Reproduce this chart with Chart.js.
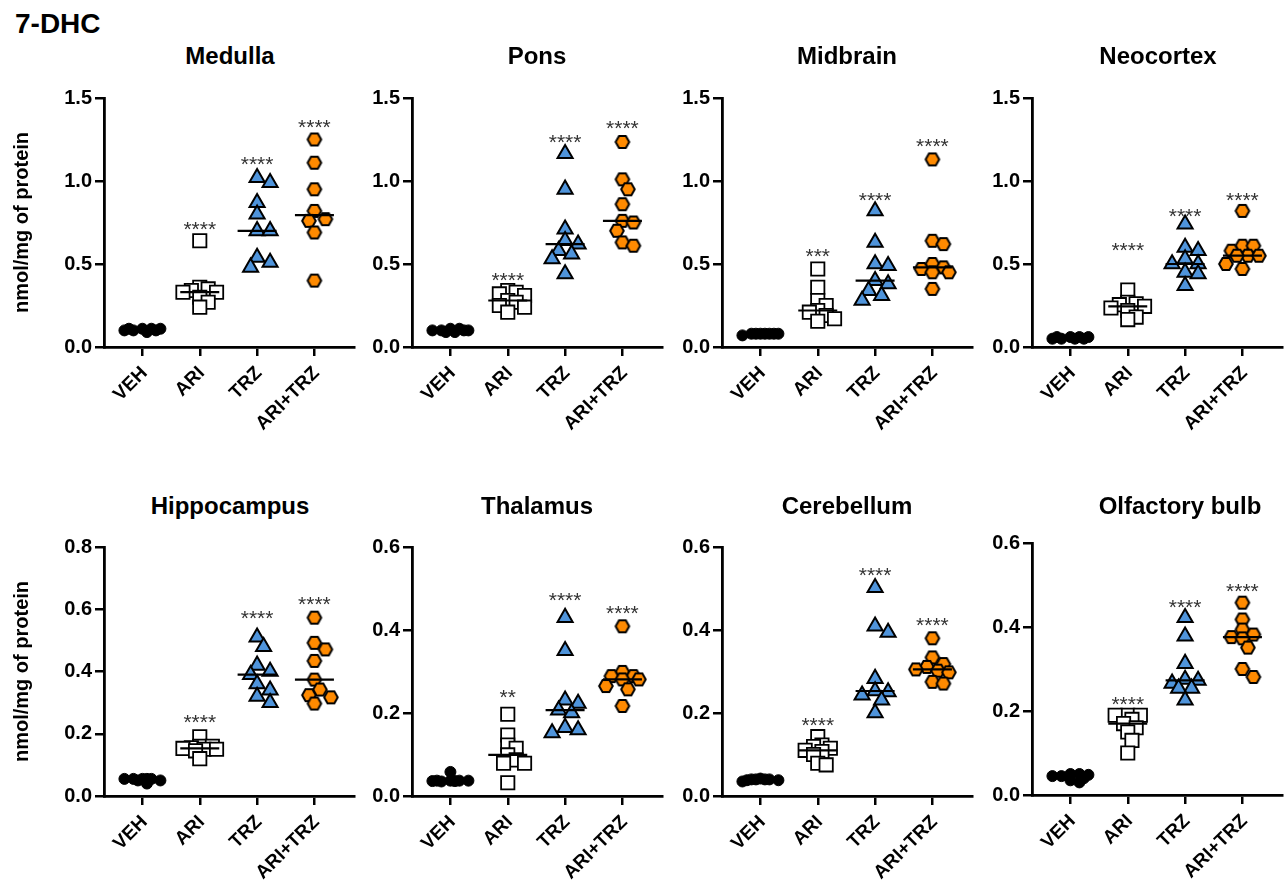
<!DOCTYPE html>
<html><head><meta charset="utf-8">
<script src="https://cdn.jsdelivr.net/npm/chart.js@4.4.0/dist/chart.umd.min.js"></script>
<style>
html,body{margin:0;padding:0;background:#fff;}
body{width:1286px;height:880px;position:relative;overflow:hidden;font-family:Arial,"Liberation Sans",sans-serif;}
.main{position:absolute;left:15px;top:10px;font-size:28px;font-weight:bold;line-height:28px;color:#000;}
.ptitle{position:absolute;width:300px;text-align:center;font-size:24px;font-weight:bold;line-height:24px;color:#000;}
canvas{position:absolute;}
</style></head><body>
<div class="main">7-DHC</div>
<script>
// ---------------- DATA ----------------
const categories = ['VEH', 'ARI', 'TRZ', 'ARI+TRZ'];
const regions = ['Medulla', 'Pons', 'Midbrain', 'Neocortex', 'Hippocampus', 'Thalamus', 'Cerebellum', 'Olfactory bulb'];
const yAxisTitle = 'nmol/mg of protein';
const yMaxes = [1.5, 1.5, 1.5, 1.5, 0.8, 0.6, 0.6, 0.6];
const ySteps = [0.5, 0.5, 0.5, 0.5, 0.2, 0.2, 0.2, 0.2];

// values per region: [VEH, ARI, TRZ, ARI+TRZ]
const medulla = [
  [0.11, 0.11, 0.10, 0.11, 0.10, 0.09, 0.10, 0.11],
  [0.64, 0.36, 0.35, 0.34, 0.33, 0.33, 0.30, 0.27, 0.24],
  [1.02, 0.99, 0.87, 0.80, 0.70, 0.70, 0.54, 0.51, 0.48],
  [1.25, 1.11, 0.95, 0.82, 0.77, 0.76, 0.69, 0.40]
];
const pons = [
  [0.11, 0.11, 0.10, 0.10, 0.09, 0.10, 0.09, 0.10],
  [0.34, 0.33, 0.32, 0.31, 0.28, 0.27, 0.25, 0.24, 0.21],
  [1.165, 0.95, 0.71, 0.64, 0.62, 0.58, 0.56, 0.53, 0.44],
  [1.235, 1.01, 0.95, 0.86, 0.76, 0.75, 0.70, 0.63, 0.61]
];
const midbrain = [
  [0.08, 0.08, 0.08, 0.08, 0.07, 0.08, 0.08, 0.08],
  [0.47, 0.36, 0.28, 0.25, 0.22, 0.21, 0.19, 0.17, 0.155],
  [0.82, 0.63, 0.50, 0.49, 0.40, 0.38, 0.34, 0.31, 0.28],
  [1.13, 0.64, 0.62, 0.50, 0.48, 0.47, 0.45, 0.45, 0.35]
];
const neocortex = [
  [0.06, 0.06, 0.05, 0.06, 0.05, 0.05, 0.06, 0.05],
  [0.343, 0.27, 0.26, 0.255, 0.245, 0.235, 0.22, 0.18, 0.165],
  [0.74, 0.60, 0.58, 0.53, 0.50, 0.50, 0.45, 0.44, 0.37],
  [0.82, 0.61, 0.61, 0.58, 0.55, 0.55, 0.55, 0.50, 0.47]
];
const hippocampus = [
  [0.055, 0.055, 0.055, 0.05, 0.04, 0.055, 0.055, 0.05],
  [0.19, 0.16, 0.16, 0.155, 0.153, 0.15, 0.15, 0.145, 0.12],
  [0.51, 0.48, 0.42, 0.40, 0.39, 0.36, 0.34, 0.32, 0.30],
  [0.573, 0.492, 0.471, 0.434, 0.374, 0.342, 0.324, 0.317, 0.297]
];
const thalamus = [
  [0.058, 0.037, 0.037, 0.035, 0.037, 0.036, 0.037, 0.036],
  [0.197, 0.147, 0.123, 0.115, 0.099, 0.087, 0.079, 0.079, 0.032],
  [0.43, 0.35, 0.231, 0.223, 0.207, 0.20, 0.165, 0.159, 0.152],
  [0.409, 0.299, 0.289, 0.289, 0.281, 0.281, 0.265, 0.257, 0.217]
];
const cerebellum = [
  [0.042, 0.04, 0.04, 0.038, 0.035, 0.04, 0.04, 0.038],
  [0.143, 0.123, 0.119, 0.115, 0.11, 0.107, 0.10, 0.079, 0.075],
  [0.502, 0.409, 0.394, 0.283, 0.253, 0.251, 0.243, 0.231, 0.20],
  [0.380, 0.334, 0.318, 0.311, 0.305, 0.302, 0.298, 0.275, 0.271]
];
const olfactoryBulb = [
  [0.05, 0.05, 0.045, 0.048, 0.035, 0.03, 0.045, 0.04],
  [0.19, 0.19, 0.19, 0.18, 0.17, 0.16, 0.15, 0.13, 0.10],
  [0.422, 0.378, 0.313, 0.275, 0.273, 0.266, 0.254, 0.254, 0.226],
  [0.458, 0.418, 0.394, 0.382, 0.376, 0.373, 0.351, 0.30, 0.281]
];
const regionData = [medulla, pons, midbrain, neocortex, hippocampus, thalamus, cerebellum, olfactoryBulb];

// significance labels and the value level at which they are printed
const starLabels = [
  ['', '****', '****', '****'],
  ['', '****', '****', '****'],
  ['', '***', '****', '****'],
  ['', '****', '****', '****'],
  ['', '****', '****', '****'],
  ['', '**', '****', '****'],
  ['', '****', '****', '****'],
  ['', '****', '****', '****']
];
const starLevels = [
  [null, 0.74, 1.135, 1.355],
  [null, 0.436, 1.265, 1.35],
  [null, 0.576, 0.918, 1.239],
  [null, 0.613, 0.822, 0.918],
  [null, 0.255, 0.588, 0.634],
  [null, 0.251, 0.484, 0.453],
  [null, 0.184, 0.544, 0.424],
  [null, 0.228, 0.46, 0.498]
];

// ---------------- LAYOUT / STYLE ----------------
const FONT = 'Arial, "Liberation Sans", sans-serif';
const axisXs = [104, 412, 722, 1032];
const plotTops = [98, 98, 98, 98, 547, 547, 547, 543];
const plotBottoms = [347, 347, 347, 347, 796, 796, 796, 795];
const plotW = 250;
const xMin = -0.67, xMax = 3.69;
const titleCX = [230, 537, 847, 1158, 230, 537, 847, 1180];
const titleCY = [56, 56, 56, 56, 506, 506, 506, 506];

function makeHex(R, fill, stroke, lw) {
  const w = Math.ceil(2 * R + lw + 2), h = Math.ceil(Math.sqrt(3) * R + lw + 2);
  const c = document.createElement('canvas');
  c.width = w; c.height = h;
  const g = c.getContext('2d');
  g.translate(w / 2, h / 2);
  g.beginPath();
  for (let k = 0; k < 6; k++) {
    const a = Math.PI / 3 * k;
    const px = R * Math.cos(a), py = R * Math.sin(a);
    if (k) g.lineTo(px, py); else g.moveTo(px, py);
  }
  g.closePath();
  g.fillStyle = fill; g.fill();
  g.lineWidth = lw; g.strokeStyle = stroke; g.lineJoin = 'miter'; g.stroke();
  return c;
}
const hexImg = makeHex(6.8, '#FF8A00', '#000', 2);

const groupStyles = [
  { pointStyle: 'circle', radius: 5.5, bg: '#000', border: '#000', bw: 1, step: 4.5, minDist: 5, maxOff: 18 },
  { pointStyle: 'rect', radius: 9.4, bg: '#fff', border: '#000', bw: 1.8, step: 4.2, minDist: 8.5, maxOff: 17 },
  { pointStyle: 'triangle', radius: 8.7, bg: '#4F94DB', border: '#000', bw: 2, step: 6.5, minDist: 10.5, maxOff: 14 },
  { pointStyle: hexImg, radius: 7, bg: '#FF8A00', border: '#000', bw: 2, step: 5.5, minDist: 10, maxOff: 17 }
];

// deterministic beeswarm: nearest free horizontal slot, limited width
function swarm(values, pxPerY, pxPerX, step, minDist, maxOff) {
  const placed = [];
  const cands = [0];
  for (let k = 1; k * step <= maxOff + 0.01; k++) { cands.push(k * step, -k * step); }
  return values.map(v => {
    const py = v * pxPerY;
    let best = 0, bestD = -1;
    for (const off of cands) {
      const d = placed.length ? Math.min(...placed.map(p => Math.hypot(p.x - off, p.y - py))) : Infinity;
      if (d >= minDist) { best = off; bestD = Infinity; break; }
      if (d > bestD + 0.01) { bestD = d; best = off; }
    }
    placed.push({ x: best, y: py });
    return best / pxPerX;
  });
}
function median(arr) {
  const s = [...arr].sort((a, b) => a - b);
  const n = s.length;
  return n % 2 ? s[(n - 1) / 2] : (s[n / 2 - 1] + s[n / 2]) / 2;
}

const starPlugin = {
  id: 'stars',
  afterDatasetsDraw(chart, args, opts) {
    const { ctx } = chart;
    const x = chart.scales.x, y = chart.scales.y;
    ctx.save();
    ctx.font = '21px ' + FONT;
    ctx.fillStyle = '#333';
    ctx.textAlign = 'center';
    ctx.textBaseline = 'alphabetic';
    opts.labels.forEach((lab, i) => {
      if (!lab || opts.levels[i] == null) return;
      ctx.fillText(lab, x.getPixelForValue(i), y.getPixelForValue(opts.levels[i]) + 12);
    });
    ctx.restore();
  }
};

regions.forEach((name, i) => {
  const col = i % 4;
  const Yw = col === 0 ? 104 : 60;
  const padTop = 20, padRight = 14, Xh = 105;
  const top = plotTops[i], bottom = plotBottoms[i];
  const plotH = bottom - top;
  const cv = document.createElement('canvas');
  cv.width = Yw + plotW + padRight;
  cv.height = padTop + plotH + Xh;
  cv.style.left = (axisXs[col] - Yw) + 'px';
  cv.style.top = (top - padTop) + 'px';
  document.body.appendChild(cv);

  const t = document.createElement('div');
  t.className = 'ptitle';
  t.textContent = name;
  t.style.left = (titleCX[i] - 150) + 'px';
  t.style.top = (titleCY[i] - 11.7) + 'px';
  document.body.appendChild(t);

  const pxPerY = plotH / yMaxes[i];
  const pxPerX = plotW / (xMax - xMin);
  const data = regionData[i];
  const datasets = [];
  data.forEach((vals, g) => {
    const m = median(vals);
    datasets.push({
      label: categories[g] + ' median',
      data: [{ x: g - 0.34, y: m }, { x: g + 0.34, y: m }],
      showLine: true, borderColor: '#000', borderWidth: 2.2, pointRadius: 0,
      order: 0, clip: false
    });
  });
  data.forEach((vals, g) => {
    const st = groupStyles[g];
    const offs = swarm(vals, pxPerY, pxPerX, st.step, st.minDist, st.maxOff);
    datasets.push({
      label: categories[g],
      data: vals.map((v, k) => ({ x: g + offs[k], y: v })),
      pointStyle: st.pointStyle, pointRadius: st.radius,
      backgroundColor: st.bg, borderColor: st.border, borderWidth: st.bw,
      order: g === 0 ? -1 : 1, clip: false
    });
  });

  const yFont = { family: FONT, size: 20, weight: 'bold' };
  const xFont = { family: FONT, size: 19, weight: 'bold' };
  new Chart(cv, {
    type: 'scatter',
    data: { datasets },
    plugins: [starPlugin],
    options: {
      responsive: false, animation: false, devicePixelRatio: 1,
      layout: { padding: { top: padTop, right: padRight, left: 0, bottom: 0 } },
      plugins: {
        legend: { display: false }, tooltip: { enabled: false }, title: { display: false },
        stars: { labels: starLabels[i], levels: starLevels[i] }
      },
      scales: {
        x: {
          type: 'linear', min: xMin, max: xMax,
          afterBuildTicks: s => { s.ticks = [0, 1, 2, 3].map(v => ({ value: v })); },
          afterFit: s => { s.height = Xh; },
          ticks: {
            autoSkip: false, maxRotation: 45, minRotation: 45, padding: 6, labelOffset: 2,
            color: '#000', font: xFont,
            callback: v => categories[Math.round(v)]
          },
          grid: { display: true, drawOnChartArea: false, drawTicks: true, tickLength: 9, color: '#000', lineWidth: 2.5 },
          border: { display: true, color: '#000', width: 2.8 }
        },
        y: {
          type: 'linear', min: 0, max: yMaxes[i],
          afterFit: s => { s.width = Yw; },
          ticks: {
            stepSize: ySteps[i], padding: 3, color: '#000', font: yFont,
            callback: v => Number(v).toFixed(1)
          },
          grid: { display: true, drawOnChartArea: false, drawTicks: true, tickLength: 9, color: '#000', lineWidth: 2.5 },
          border: { display: true, color: '#000', width: 2.8 },
          title: {
            display: col === 0, text: yAxisTitle, color: '#000',
            font: { family: FONT, size: 20, weight: 'bold' }, padding: { top: 10, bottom: 0 }
          }
        }
      }
    }
  });
});
</script>
</body></html>
